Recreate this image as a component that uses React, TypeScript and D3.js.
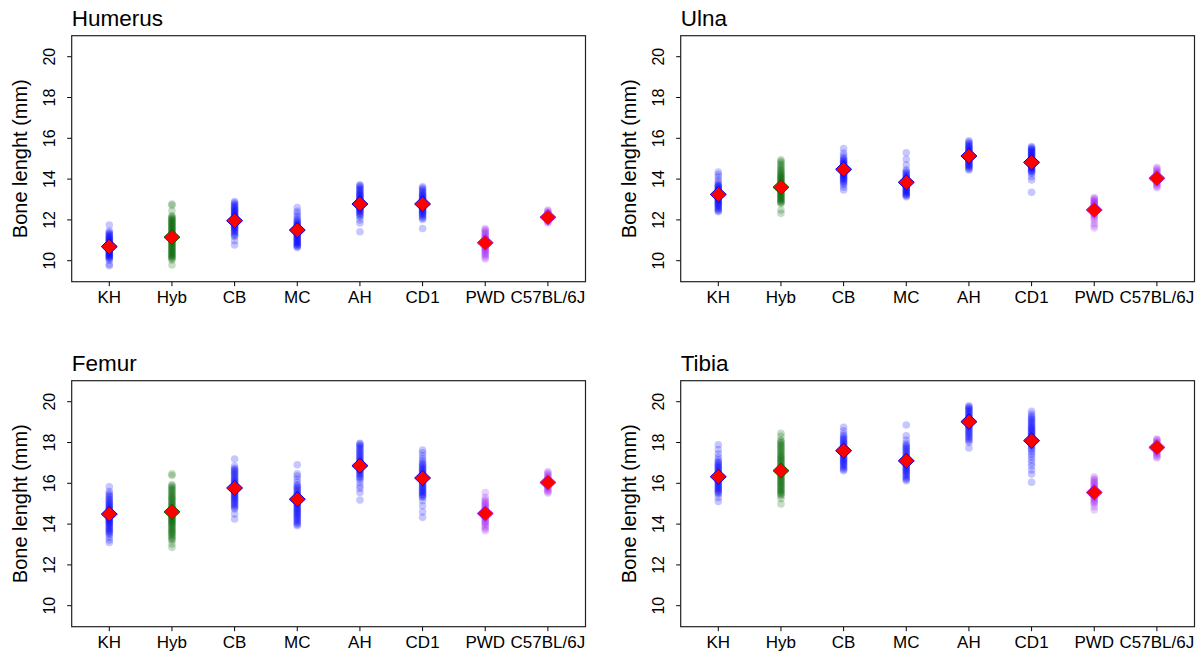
import React from "react";
import * as d3 from "d3";

const categories = ["KH", "Hyb", "CB", "MC", "AH", "CD1", "PWD", "C57BL/6J"];
const groupColors = ["#0000FF", "#006400", "#0000FF", "#0000FF", "#0000FF", "#0000FF", "#A020F0", "#A020F0"];
const yTicks = [10, 12, 14, 16, 18, 20];
const panelTitles = ["Humerus", "Ulna", "Femur", "Tibia"];
const yLabel = "Bone lenght (mm)";

// Humerus
const humKH = [9.75, 9.82, 10.02, 10.1, 10.13, 10.17, 10.2, 10.24, 10.27, 10.3, 10.34, 10.37, 10.4, 10.44, 10.47, 10.5, 10.53, 10.56, 10.6, 10.63, 10.66, 10.69, 10.72, 10.75, 10.78, 10.81, 10.84, 10.87, 10.9, 10.93, 10.97, 11.0, 11.04, 11.07, 11.11, 11.15, 11.19, 11.23, 11.28, 11.33, 11.38, 11.45, 11.75];
const humHyb = [9.79, 10.03, 10.1, 10.14, 10.18, 10.22, 10.26, 10.3, 10.34, 10.38, 10.42, 10.46, 10.5, 10.54, 10.58, 10.62, 10.66, 10.7, 10.74, 10.78, 10.82, 10.86, 10.9, 10.94, 10.98, 11.02, 11.06, 11.1, 11.14, 11.18, 11.22, 11.26, 11.3, 11.34, 11.38, 11.42, 11.46, 11.5, 11.54, 11.58, 11.62, 11.66, 11.7, 11.74, 11.78, 11.82, 11.86, 11.9, 11.94, 11.98, 12.02, 12.06, 12.1, 12.15, 12.2, 12.45, 12.72, 12.78];
const humCB = [10.77, 10.98, 11.18, 11.24, 11.3, 11.36, 11.42, 11.47, 11.52, 11.56, 11.6, 11.64, 11.68, 11.72, 11.76, 11.8, 11.84, 11.88, 11.92, 11.96, 12.0, 12.04, 12.08, 12.12, 12.16, 12.2, 12.24, 12.28, 12.32, 12.36, 12.4, 12.44, 12.48, 12.52, 12.57, 12.62, 12.67, 12.72, 12.78, 12.84, 12.9];
const humMC = [10.65, 10.69, 10.73, 10.77, 10.81, 10.85, 10.89, 10.93, 10.97, 11.01, 11.05, 11.09, 11.13, 11.17, 11.21, 11.25, 11.29, 11.33, 11.37, 11.41, 11.45, 11.49, 11.53, 11.57, 11.61, 11.65, 11.69, 11.73, 11.77, 11.81, 11.86, 11.91, 11.96, 12.02, 12.1, 12.2, 12.32, 12.42, 12.6];
const humAH = [11.42, 11.85, 12.0, 12.15, 12.22, 12.28, 12.33, 12.38, 12.42, 12.46, 12.5, 12.54, 12.58, 12.62, 12.66, 12.7, 12.74, 12.78, 12.82, 12.86, 12.9, 12.94, 12.98, 13.02, 13.06, 13.1, 13.14, 13.18, 13.22, 13.26, 13.3, 13.35, 13.4, 13.45, 13.5, 13.56, 13.62, 13.68, 13.72];
const humCD1 = [11.58, 12.02, 12.08, 12.14, 12.2, 12.25, 12.3, 12.34, 12.38, 12.42, 12.46, 12.5, 12.54, 12.58, 12.62, 12.66, 12.7, 12.74, 12.78, 12.82, 12.86, 12.9, 12.94, 12.98, 13.02, 13.06, 13.1, 13.14, 13.18, 13.22, 13.27, 13.32, 13.38, 13.44, 13.5, 13.56, 13.62];
const humPWD = [10.08, 10.16, 10.24, 10.3, 10.36, 10.42, 10.47, 10.52, 10.57, 10.62, 10.67, 10.72, 10.76, 10.8, 10.84, 10.88, 10.92, 10.96, 11.0, 11.04, 11.08, 11.12, 11.17, 11.22, 11.28, 11.34, 11.4, 11.46, 11.52, 11.58];
const humC57 = [11.85, 11.9, 11.95, 12.0, 12.04, 12.08, 12.12, 12.16, 12.2, 12.24, 12.28, 12.33, 12.38, 12.43, 12.48];
const humerusMeans = [10.69, 11.15, 11.96, 11.5, 12.78, 12.78, 10.88, 12.13];

// Ulna
const ulnKH = [12.4, 12.45, 12.5, 12.55, 12.6, 12.65, 12.7, 12.74, 12.78, 12.82, 12.86, 12.9, 12.94, 12.98, 13.02, 13.06, 13.1, 13.14, 13.18, 13.22, 13.26, 13.3, 13.34, 13.38, 13.42, 13.46, 13.5, 13.54, 13.58, 13.62, 13.66, 13.7, 13.75, 13.85, 13.95, 14.1, 14.22, 14.35];
const ulnHyb = [12.32, 12.48, 12.8, 12.84, 12.88, 12.92, 12.96, 13.0, 13.04, 13.08, 13.12, 13.16, 13.2, 13.24, 13.28, 13.32, 13.36, 13.4, 13.44, 13.48, 13.52, 13.56, 13.6, 13.64, 13.68, 13.72, 13.76, 13.8, 13.84, 13.88, 13.92, 13.96, 14.0, 14.04, 14.08, 14.12, 14.16, 14.2, 14.25, 14.3, 14.35, 14.4, 14.46, 14.52, 14.58, 14.65, 14.72, 14.8, 14.87, 14.94];
const ulnCB = [13.47, 13.6, 13.72, 13.8, 13.86, 13.91, 13.96, 14.0, 14.04, 14.08, 14.12, 14.16, 14.2, 14.24, 14.28, 14.32, 14.36, 14.4, 14.44, 14.48, 14.52, 14.56, 14.6, 14.64, 14.68, 14.72, 14.76, 14.8, 14.84, 14.88, 14.93, 14.98, 15.05, 15.15, 15.28, 15.5];
const ulnMC = [13.14, 13.18, 13.22, 13.26, 13.3, 13.34, 13.38, 13.42, 13.46, 13.5, 13.54, 13.58, 13.62, 13.66, 13.7, 13.74, 13.78, 13.82, 13.86, 13.9, 13.94, 13.98, 14.02, 14.06, 14.1, 14.15, 14.2, 14.26, 14.32, 14.38, 14.45, 14.7, 14.97, 15.29];
const ulnAH = [14.45, 14.5, 14.55, 14.6, 14.64, 14.68, 14.72, 14.76, 14.8, 14.84, 14.88, 14.92, 14.96, 15.0, 15.04, 15.08, 15.12, 15.16, 15.2, 15.24, 15.28, 15.32, 15.36, 15.4, 15.44, 15.48, 15.52, 15.56, 15.6, 15.65, 15.7, 15.76, 15.82, 15.88];
const ulnCD1 = [13.35, 13.96, 14.12, 14.28, 14.33, 14.38, 14.42, 14.46, 14.5, 14.54, 14.58, 14.62, 14.66, 14.7, 14.74, 14.78, 14.82, 14.86, 14.9, 14.94, 14.98, 15.02, 15.06, 15.1, 15.14, 15.18, 15.22, 15.26, 15.3, 15.34, 15.38, 15.42, 15.46, 15.5, 15.55, 15.59];
const ulnPWD = [11.6, 11.72, 11.84, 12.0, 12.1, 12.18, 12.24, 12.29, 12.34, 12.38, 12.42, 12.46, 12.5, 12.54, 12.58, 12.62, 12.66, 12.7, 12.74, 12.78, 12.82, 12.86, 12.9, 12.95, 13.0, 13.05, 13.1];
const ulnC57 = [13.58, 13.64, 13.7, 13.76, 13.82, 13.87, 13.92, 13.97, 14.02, 14.06, 14.1, 14.15, 14.2, 14.26, 14.32, 14.38, 14.44, 14.5, 14.58];
const ulnaMeans = [13.25, 13.6, 14.48, 13.84, 15.13, 14.82, 12.49, 14.04];

// Femur
const femKH = [13.1, 13.22, 13.35, 13.48, 13.54, 13.6, 13.65, 13.7, 13.75, 13.8, 13.85, 13.9, 13.95, 14.0, 14.04, 14.08, 14.12, 14.16, 14.2, 14.24, 14.28, 14.32, 14.36, 14.4, 14.44, 14.48, 14.52, 14.56, 14.6, 14.64, 14.68, 14.72, 14.76, 14.8, 14.85, 14.9, 14.95, 15.0, 15.05, 15.1, 15.16, 15.22, 15.28, 15.35, 15.42, 15.5, 15.6, 15.83];
const femHyb = [12.86, 13.02, 13.19, 13.26, 13.32, 13.38, 13.44, 13.5, 13.55, 13.6, 13.65, 13.7, 13.75, 13.8, 13.85, 13.9, 13.95, 14.0, 14.04, 14.08, 14.12, 14.16, 14.2, 14.24, 14.28, 14.32, 14.36, 14.4, 14.44, 14.48, 14.52, 14.56, 14.6, 14.64, 14.68, 14.72, 14.76, 14.8, 14.85, 14.9, 14.95, 15.0, 15.05, 15.1, 15.15, 15.2, 15.25, 15.3, 15.35, 15.4, 15.46, 15.52, 15.58, 15.64, 15.7, 15.76, 15.82, 15.88, 15.94, 16.38, 16.46];
const femCB = [14.25, 14.49, 14.74, 14.8, 14.86, 14.92, 14.98, 15.04, 15.1, 15.15, 15.2, 15.25, 15.3, 15.35, 15.4, 15.45, 15.5, 15.55, 15.6, 15.65, 15.7, 15.75, 15.8, 15.85, 15.9, 15.95, 16.0, 16.05, 16.1, 16.15, 16.2, 16.26, 16.32, 16.38, 16.44, 16.5, 16.56, 16.62, 16.68, 16.74, 16.84, 17.19];
const femMC = [13.92, 13.98, 14.04, 14.1, 14.16, 14.22, 14.28, 14.34, 14.4, 14.45, 14.5, 14.55, 14.6, 14.65, 14.7, 14.75, 14.8, 14.85, 14.9, 14.95, 15.0, 15.05, 15.1, 15.15, 15.2, 15.25, 15.3, 15.35, 15.4, 15.45, 15.5, 15.56, 15.62, 15.68, 15.74, 15.8, 15.86, 15.92, 16.05, 16.2, 16.35, 16.46, 16.91];
const femAH = [15.18, 15.55, 15.75, 15.88, 16.05, 16.2, 16.26, 16.32, 16.38, 16.44, 16.5, 16.55, 16.6, 16.65, 16.7, 16.75, 16.8, 16.85, 16.9, 16.95, 17.0, 17.05, 17.1, 17.15, 17.2, 17.26, 17.32, 17.38, 17.44, 17.5, 17.56, 17.62, 17.68, 17.74, 17.8, 17.86, 17.92, 17.96];
const femCD1 = [14.33, 14.6, 14.9, 15.15, 15.31, 15.36, 15.41, 15.46, 15.51, 15.56, 15.61, 15.66, 15.71, 15.76, 15.81, 15.86, 15.91, 15.96, 16.01, 16.06, 16.11, 16.16, 16.21, 16.26, 16.31, 16.36, 16.41, 16.46, 16.51, 16.56, 16.61, 16.66, 16.71, 16.76, 16.82, 16.88, 16.94, 17.0, 17.1, 17.2, 17.35, 17.5, 17.63];
const femPWD = [13.68, 13.76, 13.84, 13.92, 14.0, 14.06, 14.12, 14.18, 14.24, 14.3, 14.35, 14.4, 14.45, 14.5, 14.55, 14.6, 14.65, 14.7, 14.76, 14.82, 14.88, 14.94, 15.0, 15.06, 15.12, 15.2, 15.31, 15.55];
const femC57 = [15.52, 15.58, 15.64, 15.7, 15.76, 15.82, 15.88, 15.94, 16.0, 16.05, 16.1, 16.15, 16.2, 16.26, 16.32, 16.38, 16.44, 16.5, 16.58];
const femurMeans = [14.49, 14.6, 15.77, 15.22, 16.86, 16.26, 14.52, 16.04];

// Tibia
const tibKH = [15.11, 15.31, 15.48, 15.53, 15.58, 15.63, 15.68, 15.73, 15.78, 15.83, 15.88, 15.93, 15.98, 16.03, 16.08, 16.13, 16.18, 16.23, 16.28, 16.33, 16.38, 16.43, 16.48, 16.53, 16.58, 16.63, 16.68, 16.73, 16.78, 16.83, 16.88, 16.94, 17.0, 17.06, 17.15, 17.27, 17.45, 17.65, 17.89];
const tibHyb = [14.99, 15.25, 15.39, 15.45, 15.5, 15.55, 15.6, 15.65, 15.7, 15.75, 15.8, 15.85, 15.9, 15.95, 16.0, 16.05, 16.1, 16.15, 16.2, 16.25, 16.3, 16.35, 16.4, 16.45, 16.5, 16.55, 16.6, 16.65, 16.7, 16.75, 16.8, 16.85, 16.9, 16.95, 17.0, 17.05, 17.1, 17.15, 17.2, 17.25, 17.3, 17.35, 17.4, 17.46, 17.52, 17.58, 17.64, 17.7, 17.76, 17.82, 17.88, 17.94, 18.0, 18.06, 18.12, 18.3, 18.45];
const tibCB = [16.62, 16.68, 16.74, 16.8, 16.86, 16.92, 16.97, 17.02, 17.07, 17.12, 17.17, 17.22, 17.27, 17.32, 17.37, 17.42, 17.47, 17.52, 17.57, 17.62, 17.67, 17.72, 17.77, 17.82, 17.87, 17.92, 17.97, 18.02, 18.08, 18.14, 18.2, 18.26, 18.33, 18.42, 18.58, 18.75];
const tibMC = [16.13, 16.19, 16.25, 16.31, 16.37, 16.43, 16.49, 16.54, 16.59, 16.64, 16.69, 16.74, 16.79, 16.84, 16.89, 16.94, 16.99, 17.04, 17.09, 17.14, 17.19, 17.24, 17.29, 17.34, 17.4, 17.46, 17.52, 17.58, 17.64, 17.7, 17.76, 17.82, 17.88, 17.96, 18.12, 18.33, 18.86];
const tibAH = [17.73, 18.0, 18.08, 18.15, 18.22, 18.28, 18.34, 18.4, 18.46, 18.52, 18.58, 18.64, 18.7, 18.75, 18.8, 18.85, 18.9, 18.95, 19.0, 19.05, 19.1, 19.15, 19.2, 19.25, 19.3, 19.35, 19.4, 19.45, 19.5, 19.55, 19.6, 19.65, 19.7, 19.75, 19.8];
const tibCD1 = [16.05, 16.45, 16.65, 16.85, 17.0, 17.15, 17.3, 17.42, 17.54, 17.64, 17.72, 17.8, 17.86, 17.92, 17.98, 18.04, 18.1, 18.15, 18.2, 18.25, 18.3, 18.35, 18.4, 18.45, 18.5, 18.55, 18.6, 18.65, 18.7, 18.75, 18.8, 18.86, 18.92, 18.98, 19.04, 19.1, 19.16, 19.22, 19.3, 19.4, 19.53];
const tibPWD = [14.69, 14.85, 15.0, 15.06, 15.12, 15.18, 15.24, 15.3, 15.35, 15.4, 15.45, 15.5, 15.55, 15.6, 15.65, 15.7, 15.75, 15.8, 15.86, 15.92, 15.98, 16.04, 16.1, 16.16, 16.22, 16.32];
const tibC57 = [17.24, 17.3, 17.36, 17.42, 17.48, 17.54, 17.6, 17.65, 17.7, 17.75, 17.8, 17.85, 17.9, 17.96, 18.02, 18.08, 18.13, 18.17];
const tibiaMeans = [16.32, 16.62, 17.6, 17.1, 19.02, 18.09, 15.55, 17.76];

const panelGroups = [
  [humKH, humHyb, humCB, humMC, humAH, humCD1, humPWD, humC57],
  [ulnKH, ulnHyb, ulnCB, ulnMC, ulnAH, ulnCD1, ulnPWD, ulnC57],
  [femKH, femHyb, femCB, femMC, femAH, femCD1, femPWD, femC57],
  [tibKH, tibHyb, tibCB, tibMC, tibAH, tibCD1, tibPWD, tibC57],
];
const panelMeans = [humerusMeans, ulnaMeans, femurMeans, tibiaMeans];

const FONT = "'Liberation Sans', Arial, sans-serif";
const BOX = { left: 71.7, right: 585.5, top: 35.7, bottom: 281.7 };
const COL_OFF = [0, 609];
const ROW_OFF = [0, 345];

function Panel({ idx }: { idx: number }) {
  const ox = COL_OFF[idx % 2];
  const oy = ROW_OFF[Math.floor(idx / 2)];
  const x = d3.scaleLinear().domain([0.4, 8.6]).range([BOX.left, BOX.right]);
  const y = d3.scaleLinear().domain([8.97, 21.03]).range([BOX.bottom, BOX.top]);
  const groups = panelGroups[idx];
  const means = panelMeans[idx];
  const midY = (BOX.top + BOX.bottom) / 2;
  const dw = 8;
  const dh = 7.6;
  return (
    <g transform={`translate(${ox},${oy})`}>
      <text x={BOX.left} y={26} fontFamily={FONT} fontSize={22.5} fill="#000">
        {panelTitles[idx]}
      </text>
      <text
        x={27}
        y={midY}
        transform={`rotate(-90,27,${midY})`}
        textAnchor="middle"
        fontFamily={FONT}
        fontSize={20}
        fill="#000"
      >
        {yLabel}
      </text>
      {yTicks.map((t) => (
        <g key={t}>
          <line x1={BOX.left - 4.5} x2={BOX.left} y1={y(t)} y2={y(t)} stroke="#000" strokeWidth={1} />
          <text
            x={55}
            y={y(t)}
            transform={`rotate(-90,55,${y(t)})`}
            textAnchor="middle"
            fontFamily={FONT}
            fontSize={16}
            fill="#000"
          >
            {t}
          </text>
        </g>
      ))}
      {categories.map((c, i) => (
        <g key={c}>
          <line x1={x(i + 1)} x2={x(i + 1)} y1={BOX.bottom} y2={BOX.bottom + 4.5} stroke="#000" strokeWidth={1} />
          <text x={x(i + 1)} y={303} textAnchor="middle" fontFamily={FONT} fontSize={17} fill="#000">
            {c}
          </text>
        </g>
      ))}
      {groups.map((vals, i) =>
        vals.map((v, j) => (
          <circle key={`${i}-${j}`} cx={x(i + 1)} cy={y(v)} r={3.8} fill={groupColors[i]} fillOpacity={0.22} />
        ))
      )}
      {means.map((m, i) => {
        const cx = x(i + 1);
        const cy = y(m);
        return (
          <path
            key={`m${i}`}
            d={`M${cx},${cy - dh}L${cx + dw},${cy}L${cx},${cy + dh}L${cx - dw},${cy}Z`}
            fill="#FF0000"
            stroke={groupColors[i]}
            strokeWidth={1}
          />
        );
      })}
      <rect
        x={BOX.left}
        y={BOX.top}
        width={BOX.right - BOX.left}
        height={BOX.bottom - BOX.top}
        fill="none"
        stroke="#222"
        strokeWidth={1.2}
      />
    </g>
  );
}

export default function App() {
  return (
    <svg
      width={1202}
      height={653}
      style={{ position: "absolute", left: 0, top: 0, background: "#fff" }}
    >
      <rect x={0} y={0} width={1202} height={653} fill="#fff" />
      {[0, 1, 2, 3].map((i) => (
        <Panel key={i} idx={i} />
      ))}
    </svg>
  );
}
